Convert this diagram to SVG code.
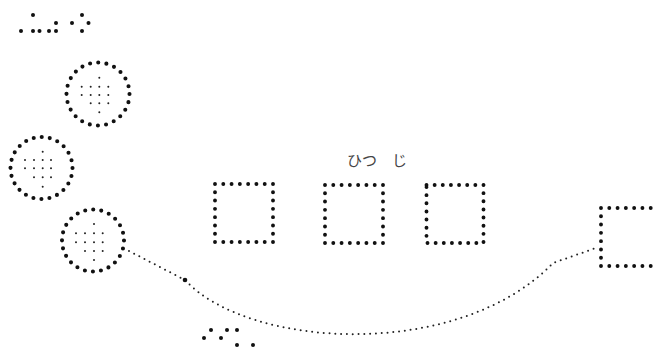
<svg xmlns="http://www.w3.org/2000/svg" width="656" height="347" viewBox="0 0 656 347">
<style>
.bg{fill:#ffffff}
.sq{fill:none;stroke:#111;stroke-width:3.9;stroke-linecap:round;stroke-dasharray:0 8.2857}
.ring{fill:none;stroke:#111;stroke-width:4.1;stroke-linecap:round}
.big{fill:#111}
.sm{fill:#222}
.link{fill:none;stroke:#222;stroke-width:2;stroke-linecap:round;stroke-dasharray:0 5.8}
.lbl{font-family:"Noto Sans CJK JP","Noto Sans CJK SC",sans-serif;font-size:15px;fill:#444}
</style>
<rect class="bg" x="0" y="0" width="656" height="347"/>
<g id="braille-top">
<circle class="big" cx="21" cy="31" r="2"/>
<circle class="big" cx="33" cy="15" r="2"/>
<circle class="big" cx="33" cy="31" r="2"/>
<circle class="big" cx="39.5" cy="31" r="2"/>
<circle class="big" cx="49" cy="31" r="2"/>
<circle class="big" cx="56" cy="31" r="2"/>
<circle class="big" cx="56" cy="23" r="2"/>
<circle class="big" cx="72" cy="23" r="2"/>
<circle class="big" cx="82" cy="15" r="2"/>
<circle class="big" cx="88.5" cy="23" r="2"/>
<circle class="big" cx="82" cy="31" r="2"/>
</g>
<g id="circle1">
<circle class="ring" cx="98" cy="94" r="31.5" style="stroke-dasharray:0 8.247"/>
<circle class="sm" cx="99.3" cy="77.7" r="1"/>
<circle class="sm" cx="81.7" cy="86.7" r="1"/><circle class="sm" cx="90.7" cy="86.7" r="1"/><circle class="sm" cx="99.3" cy="86.7" r="1"/><circle class="sm" cx="108.3" cy="86.7" r="1"/>
<circle class="sm" cx="81.7" cy="95" r="1"/><circle class="sm" cx="90.7" cy="95" r="1"/><circle class="sm" cx="99.3" cy="95" r="1"/><circle class="sm" cx="108.3" cy="95" r="1"/>
<circle class="sm" cx="90.7" cy="103.3" r="1"/><circle class="sm" cx="99.3" cy="103.3" r="1"/><circle class="sm" cx="108.3" cy="103.3" r="1"/>
<circle class="sm" cx="99.3" cy="112.3" r="1"/>
</g>
<g id="circle2">
<circle class="ring" cx="41.5" cy="168" r="31" style="stroke-dasharray:0 8.116"/>
<circle class="sm" cx="42.7" cy="151.7" r="1"/>
<circle class="sm" cx="25" cy="160" r="1"/><circle class="sm" cx="34" cy="160" r="1"/><circle class="sm" cx="42.7" cy="160" r="1"/><circle class="sm" cx="51" cy="160" r="1"/>
<circle class="sm" cx="25" cy="168.3" r="1"/><circle class="sm" cx="34" cy="168.3" r="1"/><circle class="sm" cx="42.7" cy="168.3" r="1"/><circle class="sm" cx="51" cy="168.3" r="1"/>
<circle class="sm" cx="34" cy="177.3" r="1"/><circle class="sm" cx="42.7" cy="177.3" r="1"/><circle class="sm" cx="51" cy="177.3" r="1"/>
<circle class="sm" cx="42.7" cy="186.7" r="1"/>
</g>
<g id="circle3">
<circle class="ring" cx="93" cy="240.5" r="31" style="stroke-dasharray:0 8.116"/>
<circle class="sm" cx="94" cy="224" r="1"/>
<circle class="sm" cx="76" cy="233.3" r="1"/><circle class="sm" cx="85" cy="233.3" r="1"/><circle class="sm" cx="94" cy="233.3" r="1"/><circle class="sm" cx="102.7" cy="233.3" r="1"/>
<circle class="sm" cx="76" cy="242.3" r="1"/><circle class="sm" cx="85" cy="242.3" r="1"/><circle class="sm" cx="94" cy="242.3" r="1"/><circle class="sm" cx="102.7" cy="242.3" r="1"/>
<circle class="sm" cx="85" cy="251" r="1"/><circle class="sm" cx="94" cy="251" r="1"/><circle class="sm" cx="102.7" cy="251" r="1"/>
<circle class="sm" cx="94" cy="260" r="1"/>
</g>
<g id="label">
<text class="lbl" x="347" y="166">ひつ　じ</text>
</g>
<g id="square1"><rect class="sq" x="215" y="184" width="58" height="58"/></g>
<g id="square2"><rect class="sq" x="325" y="185" width="58" height="58"/></g>
<g id="square3"><rect class="sq" x="426.5" y="185" width="57" height="58" style="stroke-dasharray:0 8.1428"/></g>
<g id="square4"><rect class="sq" x="601" y="208" width="58" height="58"/></g>
<g id="connectors">
<path class="link" d="M129,251 L185,280 C250,350 460,360 553,263 L596,248"/>
<circle class="big" cx="185" cy="280" r="2.3"/>
</g>
<g id="braille-bottom">
<circle class="big" cx="204" cy="338" r="2"/>
<circle class="big" cx="211" cy="330" r="2"/>
<circle class="big" cx="221" cy="338" r="2"/>
<circle class="big" cx="227" cy="330" r="2"/>
<circle class="big" cx="237" cy="330" r="2"/>
<circle class="big" cx="237" cy="345" r="2"/>
<circle class="big" cx="253" cy="345" r="2"/>
</g>
</svg>
